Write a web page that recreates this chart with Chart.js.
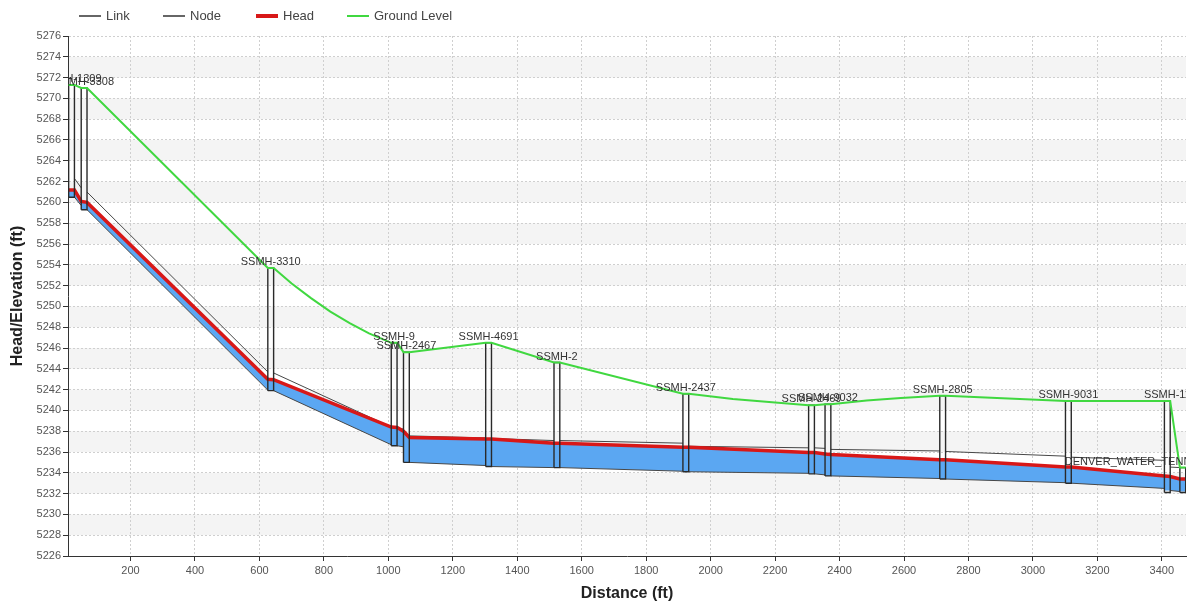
<!DOCTYPE html>
<html>
<head>
<meta charset="utf-8">
<title>Profile Plot</title>
<script src="https://cdn.jsdelivr.net/npm/chart.js@4.4.1/dist/chart.umd.min.js"></script>
<style>
  html, body { margin: 0; padding: 0; background: #fff; }
  #wrap { position: relative; width: 1194px; height: 611px; overflow: hidden; }
  #profile { position: absolute; left: 0; top: 0; }
  .legend { position: absolute; left: 0; top: 7px; height: 18px; font: 13px "Liberation Sans", Arial, sans-serif; color: #444; }
  .legend span { position: absolute; top: 0; line-height: 18px; white-space: nowrap; }
  .legend i { position: absolute; width: 22px; display: block; }
</style>
</head>
<body>
<div id="wrap">
  <canvas id="profile" width="1194" height="611"></canvas>
  <div class="legend">
    <i style="left:79px;top:8px;height:1.5px;background:#666"></i><span style="left:106px">Link</span>
    <i style="left:163px;top:8px;height:1.5px;background:#666"></i><span style="left:190px">Node</span>
    <i style="left:256px;top:7px;height:4px;background:#d81818"></i><span style="left:283px">Head</span>
    <i style="left:347px;top:8px;height:2px;background:#40d840"></i><span style="left:374px">Ground Level</span>
  </div>
</div>
<script>
// ---- manholes along the profile ----
const nodeNames = ['SSMH-1309', 'SSMH-3308', 'SSMH-3310', 'SSMH-9', 'SSMH-2467', 'SSMH-4691', 'SSMH-2',
                   'SSMH-2437', 'SSMH-2469', 'SSMH-9032', 'SSMH-2805', 'SSMH-9031', 'SSMH-11',
                   'DENVER_WATER_TENNYSON_OUTFALL_MH'];
const nodeDistance = [17, 56, 635, 1018, 1056, 1311, 1523, 1923, 2313, 2364, 2720, 3110, 3417, 3465];
const nodeGround   = [5271.3, 5271.0, 5253.7, 5246.5, 5245.6, 5246.5, 5244.6, 5241.6, 5240.5, 5240.6, 5241.4, 5240.9, 5240.9, 5234.5];
const nodeInvert   = [5260.5, 5259.3, 5241.9, 5236.6, 5235.0, 5234.6, 5234.5, 5234.1, 5233.9, 5233.7, 5233.4, 5233.0, 5232.1, 5232.1];

// hydraulic grade at the inlet / outlet side of every manhole
const headIn  = [5261.2, 5260.1, 5243.0, 5238.4, 5238.0, 5237.25, 5236.85, 5236.45, 5235.95, 5235.8, 5235.25, 5234.55, 5233.7, 5233.4];
const headOut = [5261.2, 5260.0, 5242.95, 5238.35, 5237.4, 5237.25, 5236.85, 5236.45, 5235.95, 5235.75, 5235.25, 5234.55, 5233.65, 5233.4];

// ---- pipes between consecutive manholes ----
const linkUpInvert   = [5260.5, 5259.3, 5241.9, 5236.6, 5235.0, 5234.6, 5234.5, 5234.1, 5233.9, 5233.7, 5233.4, 5233.0, 5232.3];
const linkDownInvert = [5259.7, 5241.95, 5236.7, 5236.5, 5234.7, 5234.5, 5234.15, 5233.95, 5233.8, 5233.45, 5233.05, 5232.5, 5232.2];
const linkUpCrown    = [5262.3, 5261.0, 5243.6, 5238.3, 5237.55, 5237.3, 5237.1, 5236.55, 5236.4, 5236.25, 5236.05, 5235.5, 5234.55];
const linkDownCrown  = [5261.4, 5243.7, 5238.4, 5238.2, 5237.35, 5237.1, 5236.85, 5236.4, 5236.35, 5236.1, 5235.6, 5235.2, 5234.5];

// ---- ground surface stations between manholes ----
const groundStation      = [700, 760, 820, 880, 940, 2069, 2200, 2484, 2590];
const groundStationLevel = [5252.2, 5250.8, 5249.5, 5248.4, 5247.4, 5241.1, 5240.75, 5240.95, 5241.2];

// ---- axes ----
const distanceTicks = [200, 400, 600, 800, 1000, 1200, 1400, 1600, 1800, 2000, 2200, 2400, 2600, 2800, 3000, 3200, 3400];
const distanceRange = [6, 3475];
const elevationRange = [5226, 5276];
const elevationStep = 2;

// half width of a manhole symbol, in feet
const HALF = 9;
const pt = (x, y) => ({ x, y });
const gap = x => ({ x, y: null });

// pipe crown and invert lines
const linkPoints = [];
for (let k = 0; k < linkUpInvert.length; k++) {
  const xs = nodeDistance[k] + HALF, xe = nodeDistance[k + 1] - HALF;
  linkPoints.push(pt(xs, linkUpCrown[k]), pt(xe, linkDownCrown[k]), gap(xe),
                  pt(xs, linkUpInvert[k]), pt(xe, linkDownInvert[k]), gap(xe));
}

// manhole outlines
const nodePoints = [];
nodeDistance.forEach((d, i) => {
  const l = d - HALF, r = d + HALF;
  nodePoints.push(pt(l, nodeInvert[i]), pt(l, nodeGround[i]), pt(r, nodeGround[i]),
                  pt(r, nodeInvert[i]), pt(l, nodeInvert[i]), gap(l));
});

// hydraulic grade line
const headPoints = [];
nodeDistance.forEach((d, i) => {
  headPoints.push(pt(d - HALF, headIn[i]), pt(d + HALF, headOut[i]));
});

// bottom of the flowing water
const last = linkUpInvert.length - 1;
const waterBottom = [];
nodeDistance.forEach((d, i) => {
  const inLevel  = i > 0 ? linkDownInvert[i - 1] : linkUpInvert[0];
  const outLevel = i <= last ? linkUpInvert[i] : linkDownInvert[last];
  waterBottom.push(pt(d - HALF, inLevel), pt(d - HALF, outLevel), pt(d + HALF, outLevel));
});

// ground level along manhole tops plus surveyed stations
const groundPoints = [];
nodeDistance.forEach((d, i) => {
  groundPoints.push(pt(d - HALF, nodeGround[i]), pt(d + HALF, nodeGround[i]));
});
groundStation.forEach((d, i) => groundPoints.push(pt(d, groundStationLevel[i])));
groundPoints.sort((a, b) => a.x - b.x);

const FONT = '"Liberation Sans", Arial, sans-serif';

const backgroundBands = {
  id: 'backgroundBands',
  beforeDraw(chart) {
    const { ctx, chartArea: a, scales: { y } } = chart;
    ctx.save();
    ctx.fillStyle = '#ffffff';
    ctx.fillRect(0, 0, chart.width, chart.height);
    ctx.fillStyle = '#f4f4f4';
    for (let v = elevationRange[0] + 2; v < elevationRange[1]; v += 4) {
      const top = y.getPixelForValue(v + 2), bottom = y.getPixelForValue(v);
      ctx.fillRect(a.left, top, a.right - a.left, bottom - top);
    }
    ctx.restore();
  }
};

const nodeLabels = {
  id: 'nodeLabels',
  afterDatasetsDraw(chart) {
    const { ctx, chartArea: a, scales: { x, y } } = chart;
    ctx.save();
    ctx.beginPath();
    ctx.rect(a.left, a.top, a.right - a.left, a.bottom - a.top);
    ctx.clip();
    ctx.font = '11px ' + FONT;
    ctx.fillStyle = '#333333';
    ctx.textAlign = 'center';
    ctx.textBaseline = 'alphabetic';
    nodeNames.forEach((name, i) => {
      ctx.fillText(name, x.getPixelForValue(nodeDistance[i]), y.getPixelForValue(nodeGround[i]) - 3);
    });
    ctx.restore();
  }
};

const lineDefaults = { showLine: true, pointRadius: 0, pointHoverRadius: 0, spanGaps: false, tension: 0 };
const plainNumber = v => String(v);

new Chart(document.getElementById('profile'), {
  type: 'scatter',
  data: {
    datasets: [
      { ...lineDefaults, label: 'Ground Level', data: groundPoints, borderColor: '#40d840', borderWidth: 2, order: 1 },
      { ...lineDefaults, label: 'Node', data: nodePoints, borderColor: '#2a2a2a', borderWidth: 1.4, order: 2 },
      { ...lineDefaults, label: 'Head', data: headPoints, borderColor: '#d81818', borderWidth: 3.5,
        fill: { target: 4, above: '#5ba7f2', below: '#5ba7f2' }, backgroundColor: '#5ba7f2', order: 3 },
      { ...lineDefaults, label: 'Link', data: linkPoints, borderColor: '#474747', borderWidth: 1, order: 4 },
      { ...lineDefaults, label: 'Water', data: waterBottom, borderColor: 'rgba(0,0,0,0)', borderWidth: 0, order: 5 }
    ]
  },
  options: {
    responsive: false,
    devicePixelRatio: 1,
    animation: false,
    events: [],
    layout: { padding: { left: 0, right: 8, top: 36, bottom: 0 } },
    plugins: {
      legend: { display: false },
      tooltip: { enabled: false },
      filler: { drawTime: 'beforeDatasetsDraw' }
    },
    scales: {
      x: {
        type: 'linear',
        min: distanceRange[0],
        max: distanceRange[1],
        afterBuildTicks(scale) { scale.ticks = distanceTicks.map(v => ({ value: v })); },
        afterFit(scale) { scale.height = 55; },
        ticks: { font: { size: 11, family: FONT }, color: '#555', padding: 3, maxRotation: 0, callback: plainNumber },
        grid: { color: '#cfcfcf', tickColor: '#333', tickLength: 5, tickBorderDash: [] },
        border: { display: true, color: '#333', width: 1, dash: [2, 2] },
        title: { display: true, text: 'Distance (ft)', color: '#222',
                 font: { size: 16, weight: 'bold', family: FONT }, padding: { top: 0, bottom: 8 } }
      },
      y: {
        type: 'linear',
        min: elevationRange[0],
        max: elevationRange[1],
        ticks: { stepSize: elevationStep, font: { size: 11, family: FONT }, color: '#555', padding: 2, callback: plainNumber },
        afterFit(scale) { scale.width = 68; },
        grid: { color: '#cfcfcf', tickColor: '#333', tickLength: 5, tickBorderDash: [] },
        border: { display: true, color: '#333', width: 1, dash: [2, 2] },
        title: { display: true, text: 'Head/Elevation (ft)', color: '#222',
                 font: { size: 16, weight: 'bold', family: FONT }, padding: { top: 8, bottom: 0 } }
      }
    }
  },
  plugins: [backgroundBands, nodeLabels]
});
</script>
</body>
</html>
